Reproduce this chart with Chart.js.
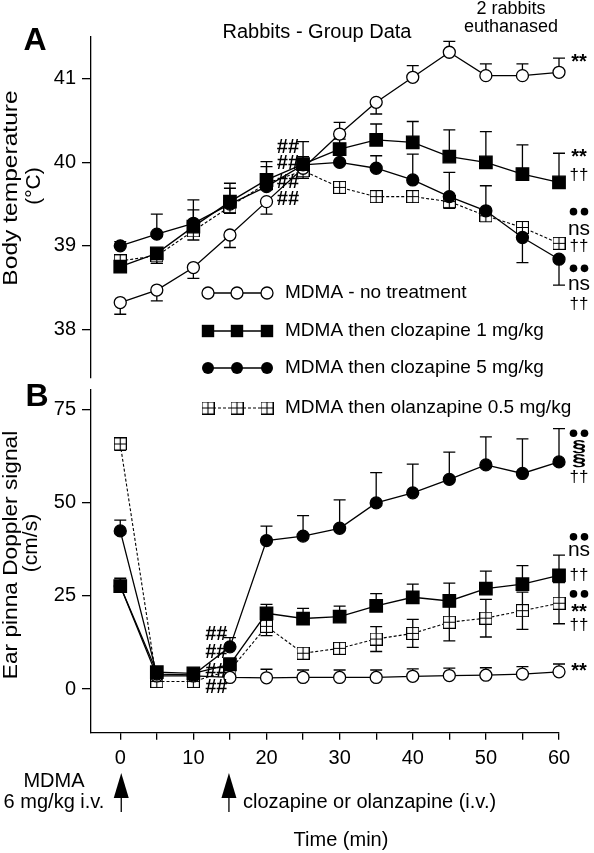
<!DOCTYPE html>
<html>
<head>
<meta charset="utf-8">
<script src="https://cdn.jsdelivr.net/npm/chart.js"></script>
<style>
  body { margin: 0; background: #fff; }
  #wrap { position: relative; width: 594px; height: 853px; }
  #wrap canvas { position: absolute; left: 0; top: 0; }
</style>
</head>
<body>
<div id="wrap">
  <canvas id="tempChart" width="594" height="853"></canvas>
  <canvas id="dopChart" width="594" height="853"></canvas>
</div>
<script>
// ---- data ----
const time = [0, 5, 10, 15, 20, 25, 30, 35, 40, 45, 50, 55, 60];
const seriesNames = ['MDMA - no treatment', 'MDMA then clozapine 1 mg/kg',
  'MDMA then clozapine 5 mg/kg', 'MDMA then olanzapine 0.5 mg/kg'];

// panel A, body temperature (deg C); error = SEM, sign gives the side drawn
const tempNoTreat    = [38.32, 38.47, 38.74, 39.13, 39.53, 39.93, 40.34, 40.72, 41.02, 41.32, 41.04, 41.04, 41.08];
const tempNoTreatErr = [-0.14, -0.13, -0.13, -0.15, -0.15, 0, 0.14, -0.14, 0.14, 0.13, 0.14, 0.14, 0.17];
const tempCloz1      = [38.75, 38.91, 39.23, 39.53, 39.79, 39.98, 40.16, 40.27, 40.24, 40.07, 40.00, 39.86, 39.76];
const tempCloz1Err   = [-0.06, -0.12, 0.20, 0.16, 0.16, 0.27, 0.12, 0.19, 0.25, 0.32, 0.37, 0.35, 0.35];
const tempCloz5      = [39.00, 39.14, 39.27, 39.50, 39.71, 39.97, 40.00, 39.93, 39.79, 39.59, 39.42, 39.10, 38.84];
const tempCloz5Err   = [0.05, 0.24, 0.28, 0.25, 0.30, 0.10, 0.10, 0.15, 0.31, 0.29, 0.30, -0.30, -0.31];
const tempOlanz      = [38.82, 38.88, 39.18, 39.47, 39.75, 39.90, 39.70, 39.59, 39.59, 39.53, 39.36, 39.22, 39.03];
const tempOlanzErr   = [-0.08, -0.09, -0.11, -0.08, -0.08, -0.09, -0.06, -0.05, -0.05, -0.08, -0.07, 0.06, 0.06];

// panel B, ear pinna doppler (cm/s)
const dopNoTreat    = [27.6, 3.5, 3.5, 3.1, 3.0, 3.1, 3.1, 3.1, 3.4, 3.6, 3.7, 4.0, 4.6];
const dopNoTreatErr = [0, 0.8, 0.8, 1.5, 2.3, 2.0, 2.0, 2.0, 2.0, 2.0, 2.0, 2.0, 2.1];
const dopCloz1      = [27.6, 4.5, 4.2, 6.6, 20.3, 18.9, 19.4, 22.3, 24.6, 23.6, 26.9, 28.1, 30.5];
const dopCloz1Err   = [2.1, 1.2, 0.8, 1.7, 2.4, 2.7, 2.8, 3.3, 3.5, 4.8, 4.7, 5.0, 5.4];
const dopCloz5      = [42.4, 4.0, 3.8, 11.3, 39.8, 41.0, 43.1, 49.9, 52.6, 56.2, 60.1, 57.8, 60.9];
const dopCloz5Err   = [2.9, 1.0, 0.8, 2.5, 3.9, 5.5, 7.6, 8.1, 7.7, 7.3, 7.5, 9.3, 8.9];
const dopOlanz      = [65.7, 2.0, 2.0, 5.0, 16.8, 9.6, 10.9, 13.4, 14.9, 17.9, 19.0, 21.0, 23.0];
const dopOlanzErr   = [1.7, 0.8, 0.5, 1.0, 2.5, 1.2, 1.5, 3.35, 3.75, 5.0, 5.05, 5.0, 5.5]; // drawn both ways

const xTicks = [0, 5, 10, 15, 20, 25, 30, 35, 40, 45, 50, 55, 60];
const tempTicks = [38, 39, 40, 41];
const dopTicks = [0, 25, 50, 75];

// significance marks at the right of each panel (value positions)
const sigTextA = ['**', '**', '††', '●●', 'ns', '††', '●●', 'ns', '††'];
const sigYA    = [41.23, 40.09, 39.85, 39.41, 39.20, 38.99, 38.73, 38.54, 38.30];
const sigTextB = ['●●', '§', '§', '††', '●●', 'ns', '††', '●●', '**', '††', '**'];
const sigYB    = [68.6, 64.7, 61.0, 56.8, 40.8, 37.3, 30.6, 25.5, 21.2, 17.2, 5.6];
const hashYA = [40.18, 39.99, 39.76, 39.55];
const hashYB = [14.5, 9.7, 4.6, 0.3];

const FONT = '"Liberation Sans", Arial, Helvetica, sans-serif';

function boxPlus(size) {
  const c = document.createElement('canvas');
  c.width = c.height = size;
  const g = c.getContext('2d');
  g.fillStyle = '#fff';
  g.fillRect(0, 0, size, size);
  g.strokeStyle = '#000';
  g.lineWidth = 1.1;
  g.strokeRect(0.5, 0.5, size - 1, size - 1);
  g.beginPath();
  g.moveTo(size / 2, 0.5); g.lineTo(size / 2, size - 0.5);
  g.moveTo(0.5, size / 2); g.lineTo(size - 0.5, size / 2);
  g.stroke();
  return c;
}
const olanzMark = boxPlus(13);

function pts(arr) { return time.map((t, i) => ({x: t, y: arr[i]})); }

function makeSets(a, aErr, b, bErr, c, cErr, d, dErr, dBoth) {
  const base = {borderColor: '#000', borderWidth: 1.3, tension: 0, clip: false,
    pointBorderColor: '#000', pointBorderWidth: 1.3, fill: false};
  // order: lower number is drawn on top
  return [
    Object.assign({}, base, {label: seriesNames[0], data: pts(a), errors: aErr, order: 2,
      pointStyle: 'circle', pointRadius: 6, pointBackgroundColor: '#fff'}),
    Object.assign({}, base, {label: seriesNames[1], data: pts(b), errors: bErr, order: 0,
      pointStyle: 'rect', pointRadius: 8.8, pointBackgroundColor: '#000'}),
    Object.assign({}, base, {label: seriesNames[2], data: pts(c), errors: cErr, order: 1,
      pointStyle: 'circle', pointRadius: 6, pointBackgroundColor: '#000'}),
    Object.assign({}, base, {label: seriesNames[3], data: pts(d), errors: dErr, errBoth: dBoth, order: 3,
      pointStyle: olanzMark, pointRadius: 6, borderWidth: 1.1, borderDash: [3, 2]})
  ];
}

function txt(ctx, s, x, y, size, opt) {
  opt = opt || {};
  ctx.save();
  ctx.font = (opt.weight || '') + ' ' + size + 'px ' + FONT;
  ctx.fillStyle = '#000';
  ctx.textAlign = opt.align || 'center';
  ctx.textBaseline = 'middle';
  ctx.translate(x, y);
  if (opt.rot) ctx.rotate(opt.rot);
  if (opt.stretch) ctx.scale(opt.stretch, 1);
  ctx.fillText(s, 0, 0);
  ctx.restore();
}

const errorBars = {
  id: 'errorBars',
  beforeDatasetsDraw(chart) {
    const ctx = chart.ctx, xs = chart.scales.x, ys = chart.scales.y;
    ctx.save();
    ctx.strokeStyle = '#000';
    ctx.lineWidth = 1.3;
    chart.data.datasets.forEach(ds => {
      ds.data.forEach((p, i) => {
        const e = ds.errors[i];
        if (!e) return;
        const ends = ds.errBoth ? [p.y + e, p.y - e] : [p.y + e];
        const x = xs.getPixelForValue(p.x);
        ends.forEach(v => {
          const y0 = ys.getPixelForValue(p.y), y1 = ys.getPixelForValue(v);
          ctx.beginPath();
          ctx.moveTo(x, y0); ctx.lineTo(x, y1);
          ctx.moveTo(x - 6, y1); ctx.lineTo(x + 6, y1);
          ctx.stroke();
        });
      });
    });
    ctx.restore();
  }
};

function drawSig(chart, texts, ys) {
  const ctx = chart.ctx;
  const x = chart.scales.x.getPixelForValue(60) + 20;
  texts.forEach((s, i) => {
    const y = chart.scales.y.getPixelForValue(ys[i]);
    if (s === '●●') {
      ctx.save();
      ctx.fillStyle = '#000';
      [-5.5, 5.5].forEach(dx => { ctx.beginPath(); ctx.arc(x + dx, y, 3.8, 0, Math.PI * 2); ctx.fill(); });
      ctx.restore();
    } else if (s === '**') {
      txt(ctx, s, x, y + 3, 20, {weight: 'bold'});
    } else if (s === 'ns') {
      txt(ctx, s, x, y, 21);
    } else if (s === '§') {
      txt(ctx, s, x, y, 17, {weight: 'bold', stretch: 1.5});
    } else {
      txt(ctx, s, x, y, 17);
    }
  });
}

function drawHash(chart, xv, ys) {
  const x = chart.scales.x.getPixelForValue(xv);
  ys.forEach(v => txt(chart.ctx, '##', x, chart.scales.y.getPixelForValue(v), 20, {weight: 'italic bold'}));
}

const panelA = {
  id: 'panelA',
  afterDraw(chart) {
    const ctx = chart.ctx;
    txt(ctx, 'A', 35, 41, 32, {weight: 'bold'});
    txt(ctx, 'Rabbits - Group Data', 317, 32, 20);
    txt(ctx, '2 rabbits', 511, 9, 18);
    txt(ctx, 'euthanased', 511, 27, 18);
    txt(ctx, 'Body temperature', 11, 188, 21, {rot: -Math.PI / 2, stretch: 1.17});
    txt(ctx, '(°C)', 34, 186, 21, {rot: -Math.PI / 2});
    drawHash(chart, 22.9, hashYA);
    drawSig(chart, sigTextA, sigYA);

    // legend
    const ly = [293, 331, 368, 408];
    const mx = [208, 237, 267];
    ly.forEach((y, k) => {
      ctx.save();
      ctx.strokeStyle = '#000';
      ctx.lineWidth = k === 3 ? 1.1 : 1.3;
      if (k === 3) ctx.setLineDash([3, 2]);
      ctx.beginPath(); ctx.moveTo(mx[0], y); ctx.lineTo(mx[2], y); ctx.stroke();
      ctx.setLineDash([]);
      ctx.lineWidth = 1.3;
      mx.forEach(x => {
        ctx.beginPath();
        if (k === 0) { ctx.arc(x, y, 6, 0, Math.PI * 2); ctx.fillStyle = '#fff'; ctx.fill(); ctx.stroke(); }
        else if (k === 1) { ctx.fillStyle = '#000'; ctx.fillRect(x - 6.2, y - 6.2, 12.4, 12.4); }
        else if (k === 2) { ctx.arc(x, y, 6, 0, Math.PI * 2); ctx.fillStyle = '#000'; ctx.fill(); }
        else { ctx.drawImage(olanzMark, x - 6.5, y - 6.5); }
      });
      ctx.restore();
      txt(ctx, seriesNames[k], 285, y, 19, {align: 'left'});
    });
  }
};

function arrow(ctx, x, yTop) {
  ctx.save();
  ctx.fillStyle = '#000';
  ctx.strokeStyle = '#000';
  ctx.lineWidth = 1.3;
  ctx.beginPath();
  ctx.moveTo(x, yTop); ctx.lineTo(x - 7.5, yTop + 25); ctx.lineTo(x + 7.5, yTop + 25); ctx.closePath();
  ctx.fill();
  ctx.beginPath(); ctx.moveTo(x, yTop + 24); ctx.lineTo(x, yTop + 39); ctx.stroke();
  ctx.restore();
}

const panelB = {
  id: 'panelB',
  afterDraw(chart) {
    const ctx = chart.ctx, xs = chart.scales.x;
    txt(ctx, 'B', 37, 397, 32, {weight: 'bold'});
    txt(ctx, 'Ear pinna Doppler signal', 11, 555, 21, {rot: -Math.PI / 2, stretch: 1.08});
    txt(ctx, '(cm/s)', 31, 543, 21, {rot: -Math.PI / 2});
    drawHash(chart, 13.1, hashYB);
    drawSig(chart, sigTextB, sigYB);
    txt(ctx, 'MDMA', 54, 781, 20);
    txt(ctx, '6 mg/kg i.v.', 54, 802, 20);
    arrow(ctx, xs.getPixelForValue(0) + 1, 773);
    arrow(ctx, xs.getPixelForValue(15) - 1, 773);
    txt(ctx, 'clozapine or olanzapine (i.v.)', 243, 802, 20, {align: 'left'});
    txt(ctx, 'Time (min)', 341, 840, 20);
  }
};

function yScale(min, max, ticks) {
  return {
    type: 'linear', min: min, max: max,
    afterFit: s => { s.width = 91; },
    afterBuildTicks: s => { s.ticks = ticks.map(v => ({value: v})); },
    grid: {drawOnChartArea: false, tickLength: 9, color: '#000', lineWidth: 1.3},
    border: {color: '#000', width: 1.3},
    ticks: {color: '#000', padding: 6, font: {size: 20, family: FONT}}
  };
}

const common = {
  responsive: false,
  animation: false,
  events: [],
  plugins: {legend: {display: false}, tooltip: {enabled: false}}
};

new Chart(document.getElementById('tempChart'), {
  type: 'line',
  data: {datasets: makeSets(tempNoTreat, tempNoTreatErr, tempCloz1, tempCloz1Err,
    tempCloz5, tempCloz5Err, tempOlanz, tempOlanzErr, false)},
  options: Object.assign({}, common, {
    layout: {autoPadding: false, padding: {left: 0, right: 35, top: 37, bottom: 475}},
    scales: {
      x: {type: 'linear', min: -4, max: 60, display: false},
      y: yScale(37.416, 41.503, tempTicks)
    }
  }),
  plugins: [errorBars, panelA]
});

new Chart(document.getElementById('dopChart'), {
  type: 'line',
  data: {datasets: makeSets(dopNoTreat, dopNoTreatErr, dopCloz1, dopCloz1Err,
    dopCloz5, dopCloz5Err, dopOlanz, dopOlanzErr, true)},
  options: Object.assign({}, common, {
    layout: {autoPadding: false, padding: {left: 0, right: 35, top: 390, bottom: 80.3}},
    scales: {
      x: {
        type: 'linear', min: -4, max: 60,
        afterFit: s => { s.height = 40; },
        afterBuildTicks: s => { s.ticks = xTicks.map(v => ({value: v})); },
        grid: {drawOnChartArea: false, tickLength: 7, color: '#000', lineWidth: 1.3},
        border: {color: '#000', width: 1.3},
        ticks: {color: '#000', padding: 7, maxRotation: 0, autoSkip: false,
          font: {size: 20, family: FONT},
          callback: v => (v % 10 === 0 ? v : '')}
      },
      y: yScale(-11.72, 80.18, dopTicks)
    }
  }),
  plugins: [errorBars, panelB]
});
</script>
</body>
</html>
